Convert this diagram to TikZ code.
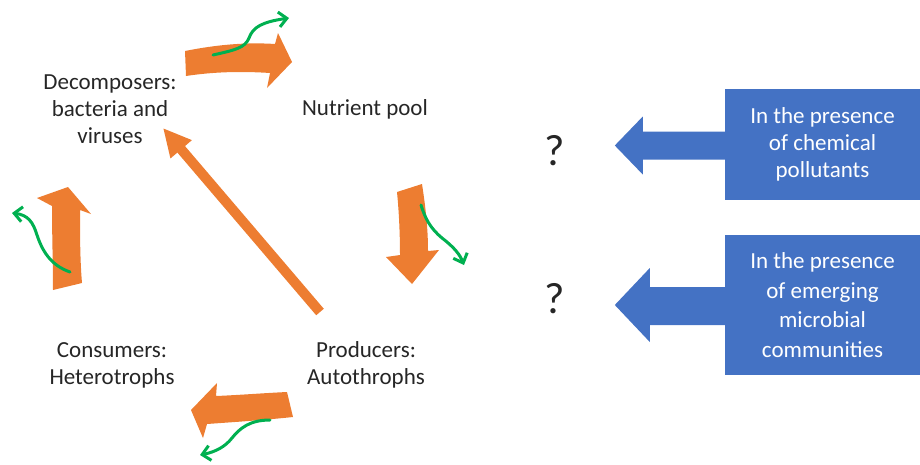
\documentclass[tikz,border=0pt]{standalone}
\usepackage{fontspec}
\setmainfont{Carlito}
\usetikzlibrary{arrows.meta,calc}
\definecolor{orng}{HTML}{ED7D31}
\definecolor{grn}{HTML}{00B050}
\definecolor{blu}{HTML}{4472C4}
\definecolor{txt}{HTML}{262626}
\begin{document}
\begin{tikzpicture}[x=1pt,y=-1pt,
  lbl/.style={font=\fontsize{23}{27}\selectfont, text=txt, align=center, inner sep=0pt},
  qm/.style={font=\fontsize{44}{48}\selectfont, text=txt, inner sep=0pt, anchor=base},
  bbox/.style={fill=blu, text=white, align=center, inner sep=0pt, minimum width=195, font=\fontsize{23}{27}\selectfont},
  blockarrow/.style={fill=orng},
  wavy/.style={draw=grn, line width=3, line cap=round, -{Straight Barb[length=8,width=15,line width=3]}}
]
\useasboundingbox (0,0) rectangle (920,464);

% labels
\node[lbl] (decomp) at (110,109) {Decomposers:\\bacteria and\\viruses};
\node[lbl, anchor=base] (pool) at (365,115) {Nutrient pool};
\node[lbl] (cons) at (112,365) {Consumers:\\Heterotrophs};
\node[lbl] (prod) at (366,365) {Producers:\\Autothrophs};

% orange block arrows of the cycle
\fill[blockarrow] (185,51) .. controls (215,45) and (245,42) .. (275,44) -- (278,33) -- (292,62) -- (267,88) -- (270,73) .. controls (240,71) and (212,72) .. (186,76) -- cycle;
\fill[blockarrow] (397,192) -- (422,184) .. controls (426,210) and (428,230) .. (428,251) -- (439,250) -- (412,284) -- (386,257) -- (400,255) .. controls (400,235) and (399,212) .. (397,192) -- cycle;
\fill[blockarrow] (287,392) -- (293,417) .. controls (265,420) and (235,422) .. (207,424) -- (203,438) -- (191,410) -- (217,383) -- (216,396) .. controls (240,395) and (265,393) .. (287,392) -- cycle;
\fill[blockarrow] (53,290) -- (82,283) .. controls (80,260) and (80,235) .. (80,210) -- (91,214) -- (68,187) -- (37,198) -- (52,206) .. controls (52,235) and (53,265) .. (53,290) -- cycle;

% diagonal arrow
\coordinate (dstart) at (320,312);
\coordinate (dend) at (163,128);
\draw[orng, line width=10, -{Triangle[length=28,width=26]}] (dstart) -- (dend);

% green wavy arrows
\draw[wavy] (213,55) .. controls (235,50) and (245,48) .. (249,38) .. controls (253,27) and (262,22) .. (289,18);
\draw[wavy] (421,205) .. controls (425,218) and (430,228) .. (442,238) .. controls (455,248) and (460,255) .. (464,265);
\draw[wavy] (70,272) .. controls (50,265) and (42,250) .. (37,235) .. controls (33,222) and (28,215) .. (12,213);
\draw[wavy] (270,420) .. controls (250,420) and (240,428) .. (232,438) .. controls (225,447) and (215,452) .. (200,455);

% question marks
\node[qm] (q1) at (555,165) {?};
\node[qm] (q2) at (555,313) {?};

% blue boxes with arrows
\node[bbox, minimum height=111] (box1) at (822.5,144.5) {In the presence\\of chemical\\pollutants};
\fill[blu] ($(box1.west)+(1,-13)$) -- ($(box1.west)+(-82,-13)$) -- ($(box1.west)+(-82,-28)$) -- ($(box1.west)+(-110,1)$) -- ($(box1.west)+(-82,30)$) -- ($(box1.west)+(-82,15)$) -- ($(box1.west)+(1,15)$) -- cycle;

\node[bbox, minimum height=140, font=\fontsize{23}{29.5}\selectfont] (box2) at (822.5,305) {In the presence\\of emerging\\microbial\\communities};
\fill[blu] ($(box2.west)+(1,-18)$) -- ($(box2.west)+(-75,-18)$) -- ($(box2.west)+(-75,-37)$) -- ($(box2.west)+(-110,0)$) -- ($(box2.west)+(-75,37)$) -- ($(box2.west)+(-75,20)$) -- ($(box2.west)+(1,20)$) -- cycle;
\end{tikzpicture}
\end{document}
